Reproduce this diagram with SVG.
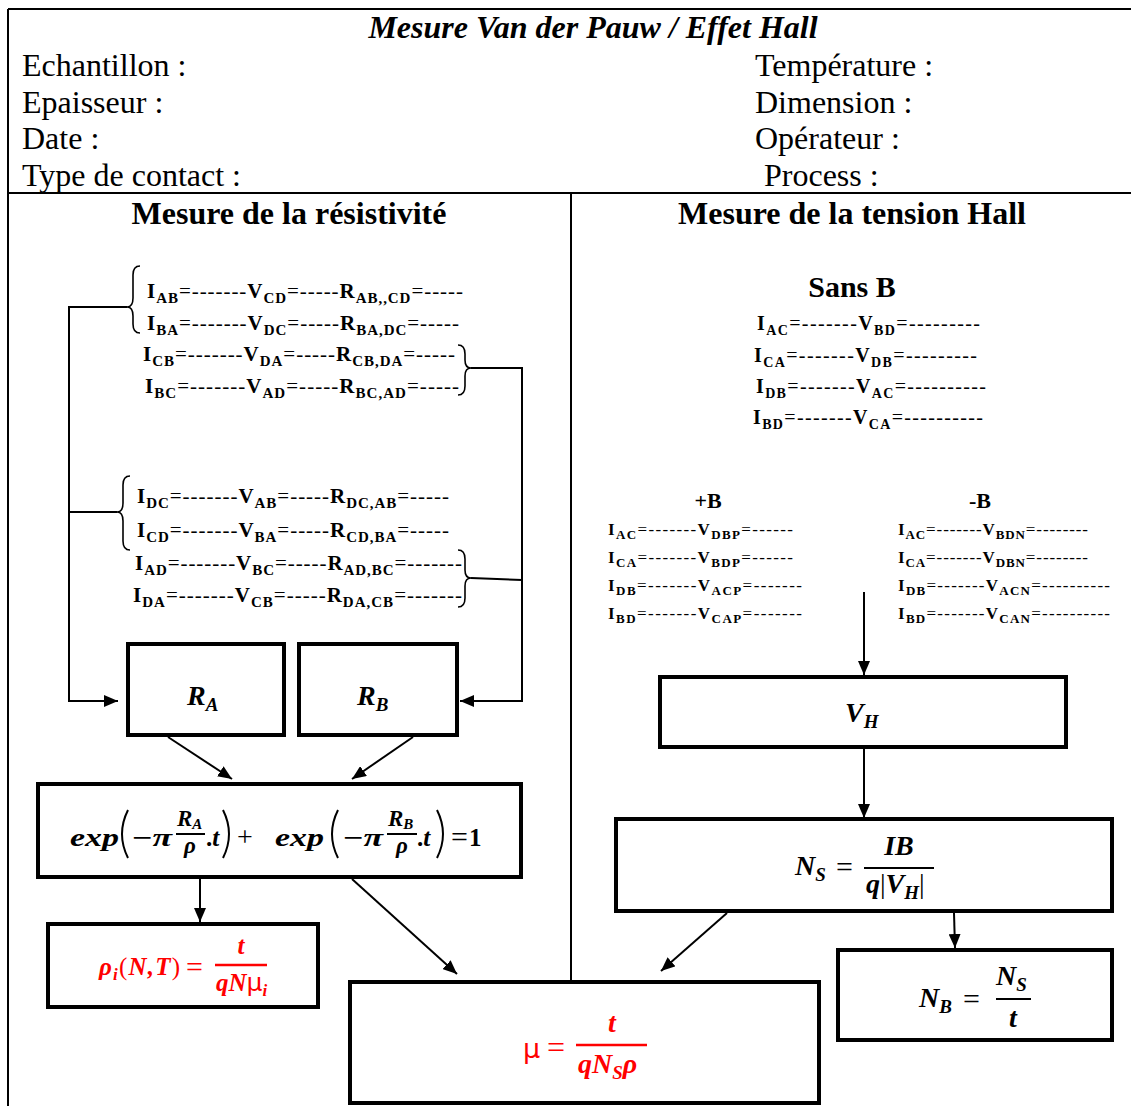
<svg xmlns="http://www.w3.org/2000/svg" width="1131" height="1106" viewBox="0 0 1131 1106">
<defs>
<marker id="ah" markerUnits="userSpaceOnUse" viewBox="0 0 14 12" refX="14" refY="6" markerWidth="14" markerHeight="12" orient="auto"><path d="M0,0 L14,6 L0,12 z" fill="#000"/></marker>
</defs>
<style>
.t{font-family:"Liberation Serif","Times New Roman",serif;fill:#000}
.hd{font-size:32px}
.ti{font-size:32px;font-weight:bold;font-style:italic}
.sh{font-size:32px;font-weight:bold}
.m{font-family:"Liberation Serif","Times New Roman",serif;font-weight:bold;fill:#000}
.m .d{font-weight:normal}
.L{font-size:21px}
.L .s{font-size:15px}
.R{font-size:20px}
.R .s{font-size:14px}
.P{font-size:17px}
.P .s{font-size:13px}
.box{fill:#fff;stroke:#000;stroke-width:4}
.tbl{fill:none;stroke:#000;stroke-width:2}
.br{fill:none;stroke:#000;stroke-width:1.6}
.c{fill:none;stroke:#000;stroke-width:2}
.ca{marker-end:url(#ah)}
.mx{font-family:"Liberation Serif","Times New Roman",serif;font-weight:bold;font-style:italic;fill:#000}
.up{font-style:normal}
.eqs{font-family:"Liberation Serif",serif;font-weight:normal;font-style:normal}
.red{fill:#f00}
.pn{fill:none;stroke:#000;stroke-width:2}
.fl{stroke:#000;stroke-width:2}
.flr{stroke:#f00;stroke-width:2.5}
</style>

<g id="table">
<line class="tbl" x1="8" y1="9" x2="1131" y2="9"/>
<line class="tbl" x1="8" y1="9" x2="8" y2="1106"/>
<line class="tbl" x1="8" y1="193" x2="1131" y2="193"/>
<line class="tbl" x1="571" y1="193" x2="571" y2="982"/>
</g>

<g id="header">
<text class="t ti" x="593" y="38" text-anchor="middle">Mesure Van der Pauw / Effet Hall</text>
<text class="t hd" x="22" y="76">Echantillon :</text>
<text class="t hd" x="22" y="113">Epaisseur :</text>
<text class="t hd" x="22" y="149">Date :</text>
<text class="t hd" x="22" y="186">Type de contact :</text>
<text class="t hd" x="755" y="76">Température :</text>
<text class="t hd" x="755" y="113">Dimension :</text>
<text class="t hd" x="755" y="149">Opérateur :</text>
<text class="t hd" x="764" y="186">Process :</text>
<text class="t sh" x="289" y="224" text-anchor="middle">Mesure de la résistivité</text>
<text class="t sh" x="852" y="224" text-anchor="middle">Mesure de la tension Hall</text>
</g>

<g id="resistivity-measures">
<text class="m L" x="147" y="298" textLength="316">I<tspan class="s" dy="5">AB</tspan><tspan class="d" dy="-5">=-------</tspan>V<tspan class="s" dy="5">CD</tspan><tspan class="d" dy="-5">=-----</tspan>R<tspan class="s" dy="5">AB,,CD</tspan><tspan class="d" dy="-5">=-----</tspan></text>
<text class="m L" x="147" y="330" textLength="312">I<tspan class="s" dy="5">BA</tspan><tspan class="d" dy="-5">=-------</tspan>V<tspan class="s" dy="5">DC</tspan><tspan class="d" dy="-5">=-----</tspan>R<tspan class="s" dy="5">BA,DC</tspan><tspan class="d" dy="-5">=-----</tspan></text>
<text class="m L" x="143" y="361" textLength="312">I<tspan class="s" dy="5">CB</tspan><tspan class="d" dy="-5">=-------</tspan>V<tspan class="s" dy="5">DA</tspan><tspan class="d" dy="-5">=-----</tspan>R<tspan class="s" dy="5">CB,DA</tspan><tspan class="d" dy="-5">=-----</tspan></text>
<text class="m L" x="145" y="393" textLength="314">I<tspan class="s" dy="5">BC</tspan><tspan class="d" dy="-5">=-------</tspan>V<tspan class="s" dy="5">AD</tspan><tspan class="d" dy="-5">=-----</tspan>R<tspan class="s" dy="5">BC,AD</tspan><tspan class="d" dy="-5">=-----</tspan></text>
<text class="m L" x="137" y="503" textLength="312">I<tspan class="s" dy="5">DC</tspan><tspan class="d" dy="-5">=-------</tspan>V<tspan class="s" dy="5">AB</tspan><tspan class="d" dy="-5">=-----</tspan>R<tspan class="s" dy="5">DC,AB</tspan><tspan class="d" dy="-5">=-----</tspan></text>
<text class="m L" x="137" y="537" textLength="312">I<tspan class="s" dy="5">CD</tspan><tspan class="d" dy="-5">=-------</tspan>V<tspan class="s" dy="5">BA</tspan><tspan class="d" dy="-5">=-----</tspan>R<tspan class="s" dy="5">CD,BA</tspan><tspan class="d" dy="-5">=-----</tspan></text>
<text class="m L" x="135" y="570" textLength="327">I<tspan class="s" dy="5">AD</tspan><tspan class="d" dy="-5">=-------</tspan>V<tspan class="s" dy="5">BC</tspan><tspan class="d" dy="-5">=-----</tspan>R<tspan class="s" dy="5">AD,BC</tspan><tspan class="d" dy="-5">=-------</tspan></text>
<text class="m L" x="133" y="602" textLength="329">I<tspan class="s" dy="5">DA</tspan><tspan class="d" dy="-5">=-------</tspan>V<tspan class="s" dy="5">CB</tspan><tspan class="d" dy="-5">=-----</tspan>R<tspan class="s" dy="5">DA,CB</tspan><tspan class="d" dy="-5">=-------</tspan></text>
<path class="br" d="M140,266 Q133,266 133,275 L133,298 Q133,307 127,307 Q133,307 133,316 L133,324 Q133,333 140,333"/>
<path class="br" d="M458,345 Q465,345 465,354 L465,360 Q465,368 471,368 Q465,368 465,376 L465,386 Q465,395 458,395"/>
<path class="br" d="M130,476 Q123,476 123,485 L123,503 Q123,512 117,512 Q123,512 123,521 L123,541 Q123,550 130,550"/>
<path class="br" d="M458,550 Q465,550 465,559 L465,570 Q465,578 471,578 Q465,578 465,586 L465,598 Q465,607 458,607"/>
</g>

<g id="hall-measures">
<text class="t" x="852" y="297" text-anchor="middle" font-size="30" font-weight="bold">Sans B</text>
<text class="m R" x="757" y="330" textLength="223">I<tspan class="s" dy="5">AC</tspan><tspan class="d" dy="-5">=-------</tspan>V<tspan class="s" dy="5">BD</tspan><tspan class="d" dy="-5">=---------</tspan></text>
<text class="m R" x="754" y="362" textLength="223">I<tspan class="s" dy="5">CA</tspan><tspan class="d" dy="-5">=-------</tspan>V<tspan class="s" dy="5">DB</tspan><tspan class="d" dy="-5">=---------</tspan></text>
<text class="m R" x="756" y="393" textLength="230">I<tspan class="s" dy="5">DB</tspan><tspan class="d" dy="-5">=-------</tspan>V<tspan class="s" dy="5">AC</tspan><tspan class="d" dy="-5">=----------</tspan></text>
<text class="m R" x="753" y="424" textLength="230">I<tspan class="s" dy="5">BD</tspan><tspan class="d" dy="-5">=-------</tspan>V<tspan class="s" dy="5">CA</tspan><tspan class="d" dy="-5">=----------</tspan></text>
<text class="t" x="708" y="508" text-anchor="middle" font-size="22" font-weight="bold">+B</text>
<text class="t" x="980" y="508" text-anchor="middle" font-size="22" font-weight="bold">-B</text>
<text class="m P" x="608" y="535" textLength="185">I<tspan class="s" dy="4">AC</tspan><tspan class="d" dy="-4">=-------</tspan>V<tspan class="s" dy="4">DBP</tspan><tspan class="d" dy="-4">=------</tspan></text>
<text class="m P" x="608" y="563" textLength="185">I<tspan class="s" dy="4">CA</tspan><tspan class="d" dy="-4">=-------</tspan>V<tspan class="s" dy="4">BDP</tspan><tspan class="d" dy="-4">=------</tspan></text>
<text class="m P" x="608" y="591" textLength="194">I<tspan class="s" dy="4">DB</tspan><tspan class="d" dy="-4">=-------</tspan>V<tspan class="s" dy="4">ACP</tspan><tspan class="d" dy="-4">=-------</tspan></text>
<text class="m P" x="608" y="619" textLength="194">I<tspan class="s" dy="4">BD</tspan><tspan class="d" dy="-4">=-------</tspan>V<tspan class="s" dy="4">CAP</tspan><tspan class="d" dy="-4">=-------</tspan></text>
<text class="m P" x="898" y="535" textLength="190">I<tspan class="s" dy="4">AC</tspan><tspan class="d" dy="-4">=-------</tspan>V<tspan class="s" dy="4">BDN</tspan><tspan class="d" dy="-4">=--------</tspan></text>
<text class="m P" x="898" y="563" textLength="190">I<tspan class="s" dy="4">CA</tspan><tspan class="d" dy="-4">=-------</tspan>V<tspan class="s" dy="4">DBN</tspan><tspan class="d" dy="-4">=--------</tspan></text>
<text class="m P" x="898" y="591" textLength="212">I<tspan class="s" dy="4">DB</tspan><tspan class="d" dy="-4">=-------</tspan>V<tspan class="s" dy="4">ACN</tspan><tspan class="d" dy="-4">=----------</tspan></text>
<text class="m P" x="898" y="619" textLength="212">I<tspan class="s" dy="4">BD</tspan><tspan class="d" dy="-4">=-------</tspan>V<tspan class="s" dy="4">CAN</tspan><tspan class="d" dy="-4">=----------</tspan></text>
</g>

<g id="connectors">
<polyline class="c ca" points="127,307 69,307 69,701 118,701"/>
<line class="c" x1="117" y1="512" x2="69" y2="512"/>
<polyline class="c ca" points="471,368 522,368 522,701 460,701"/>
<line class="c" x1="471" y1="578" x2="522" y2="580"/>
<line class="c ca" x1="168" y1="737" x2="232" y2="779"/>
<line class="c ca" x1="413" y1="737" x2="352" y2="779"/>
<line class="c ca" x1="200" y1="879" x2="200" y2="922"/>
<line class="c ca" x1="352" y1="879" x2="457" y2="974"/>
<line class="c ca" x1="864" y1="592" x2="864" y2="675"/>
<line class="c ca" x1="864" y1="749" x2="864" y2="818"/>
<line class="c ca" x1="727" y1="913" x2="661" y2="971"/>
<line class="c ca" x1="954" y1="913" x2="955" y2="948"/>
</g>

<g id="node-RA">
<rect class="box" x="128" y="644" width="156" height="91"/>
<text class="mx" x="187" y="705" font-size="28">R<tspan dy="6" font-size="19">A</tspan></text>
</g>

<g id="node-RB">
<rect class="box" x="299" y="644" width="158" height="91"/>
<text class="mx" x="357" y="705" font-size="28">R<tspan dy="6" font-size="19">B</tspan></text>
</g>

<g id="node-eq">
<rect class="box" x="38" y="784" width="483" height="93"/>
<text class="mx" x="70" y="846" font-size="25" textLength="49" lengthAdjust="spacingAndGlyphs">exp</text>
<path class="pn" d="M128,810 Q116,834 128,858"/>
<text class="mx" x="132" y="846" font-size="25" textLength="40" lengthAdjust="spacingAndGlyphs"><tspan class="up">−</tspan>π</text>
<text class="mx" x="177" y="826" font-size="23">R<tspan dy="3" font-size="15">A</tspan></text>
<line class="fl" x1="176" y1="834" x2="205" y2="834"/>
<text class="mx" x="190" y="853" font-size="23" text-anchor="middle">ρ</text>
<text class="mx" x="206" y="846" font-size="25"><tspan class="up">.</tspan>t</text>
<path class="pn" d="M223,810 Q235,834 223,858"/>
<text class="eqs" x="237" y="846" font-size="28">+</text>
<text class="mx" x="275" y="846" font-size="25" textLength="49" lengthAdjust="spacingAndGlyphs">exp</text>
<path class="pn" d="M338,810 Q326,834 338,858"/>
<text class="mx" x="343" y="846" font-size="25" textLength="40" lengthAdjust="spacingAndGlyphs"><tspan class="up">−</tspan>π</text>
<text class="mx" x="388" y="826" font-size="23">R<tspan dy="3" font-size="15">B</tspan></text>
<line class="fl" x1="387" y1="834" x2="417" y2="834"/>
<text class="mx" x="402" y="853" font-size="23" text-anchor="middle">ρ</text>
<text class="mx" x="417" y="846" font-size="25"><tspan class="up">.</tspan>t</text>
<path class="pn" d="M437,810 Q449,834 437,858"/>
<text class="eqs" x="451" y="847" font-size="30">=</text>
<text class="mx" x="469" y="846" font-size="25"><tspan class="up">1</tspan></text>
</g>

<g id="node-rho">
<rect class="box" x="48" y="924" width="270" height="83"/>
<text class="mx red" x="99" y="975" font-size="25" textLength="81" lengthAdjust="spacing">ρ<tspan dy="5" font-size="17">i</tspan><tspan dy="-5" class="up" font-weight="normal">(</tspan>N,T<tspan class="up" font-weight="normal">)</tspan></text>
<text class="eqs red" x="186" y="977" font-size="30">=</text>
<line class="flr" x1="215" y1="965" x2="267" y2="965"/>
<text class="mx red" x="241" y="954" font-size="25" text-anchor="middle">t</text>
<text class="mx red" x="216" y="991" font-size="25">qN<tspan class="up" font-weight="normal" font-family="DejaVu Sans">μ</tspan><tspan dy="5" font-size="17">i</tspan></text>
</g>

<g id="node-mu">
<rect class="box" x="350" y="982" width="469" height="121"/>
<text class="red" x="523" y="1058" font-size="27" font-family="DejaVu Sans">μ</text>
<text class="eqs red" x="547" y="1058" font-size="32">=</text>
<line class="flr" x1="576" y1="1045" x2="647" y2="1045" stroke-width="3"/>
<text class="mx red" x="612" y="1032" font-size="28" text-anchor="middle">t</text>
<text class="mx red" x="578" y="1073" font-size="28">qN<tspan dy="6" font-size="19">S</tspan><tspan dy="-6">ρ</tspan></text>
</g>

<g id="node-VH">
<rect class="box" x="660" y="677" width="406" height="70"/>
<text class="mx" x="845" y="722" font-size="28">V<tspan dy="6" font-size="19">H</tspan></text>
</g>

<g id="node-NS">
<rect class="box" x="616" y="819" width="496" height="92"/>
<text class="mx" x="795" y="875" font-size="28">N<tspan dy="6" font-size="19">S</tspan></text>
<text class="eqs" x="836" y="877" font-size="30">=</text>
<line class="fl" x1="864" y1="868" x2="934" y2="868"/>
<text class="mx" x="899" y="855" font-size="28" text-anchor="middle">IB</text>
<text class="mx" x="866" y="893" font-size="28">q<tspan class="up" font-weight="normal">|</tspan>V<tspan dy="6" font-size="19">H</tspan><tspan dy="-6" class="up" font-weight="normal">|</tspan></text>
</g>

<g id="node-NB">
<rect class="box" x="838" y="950" width="274" height="90"/>
<text class="mx" x="919" y="1007" font-size="28">N<tspan dy="6" font-size="19">B</tspan></text>
<text class="eqs" x="963" y="1009" font-size="30">=</text>
<line class="fl" x1="996" y1="999" x2="1031" y2="999"/>
<text class="mx" x="996" y="985" font-size="28">N<tspan dy="6" font-size="19">S</tspan></text>
<text class="mx" x="1013" y="1027" font-size="28" text-anchor="middle">t</text>
</g>
</svg>
